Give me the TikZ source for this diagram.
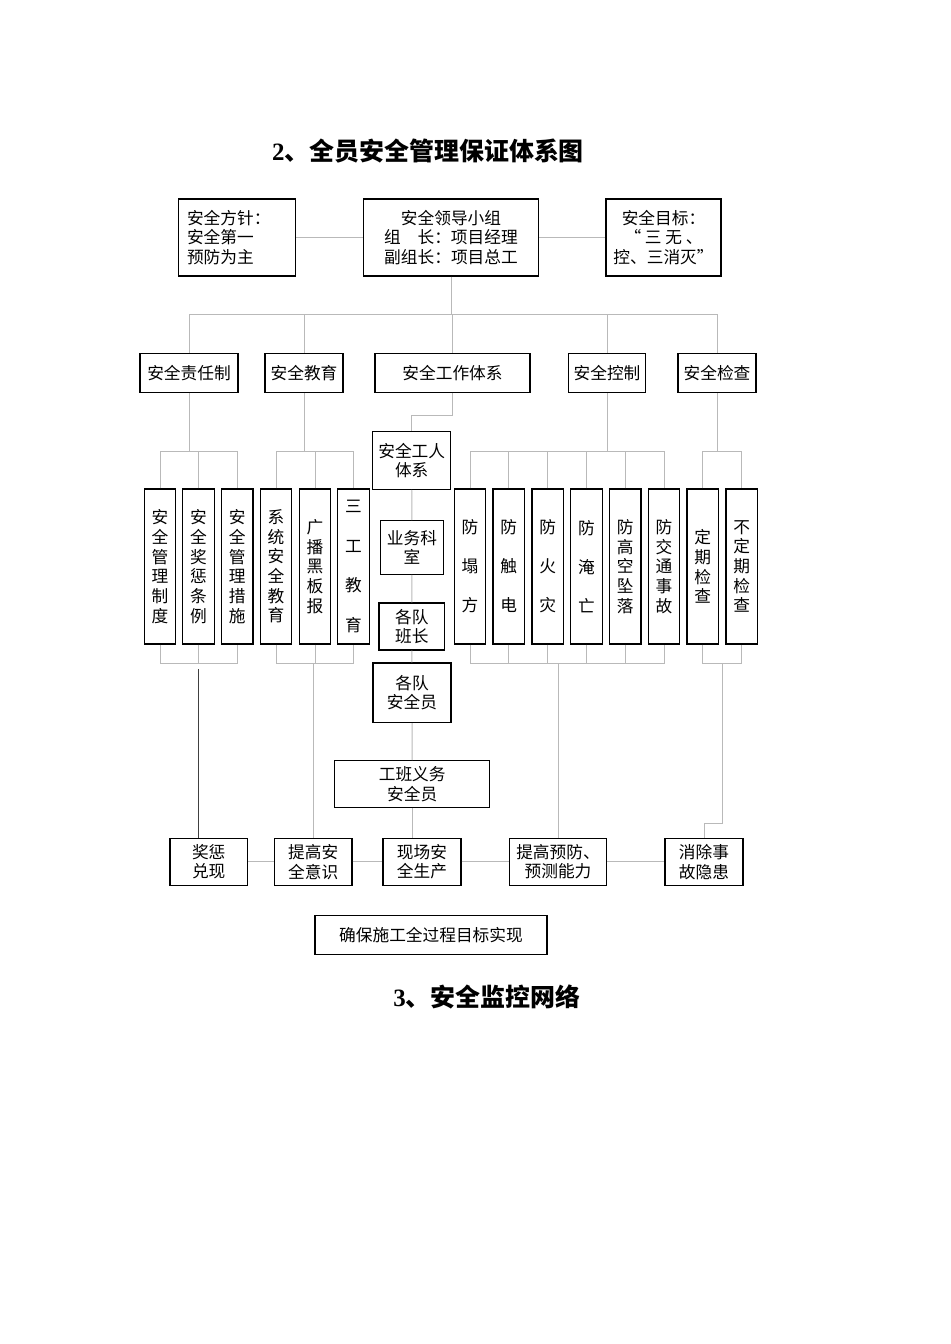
\documentclass[tikz,border=0pt]{standalone}
\usepackage{fontspec}
\setmainfont{Liberation Serif}
\newfontfamily\cjk{Noto Sans CJK SC}
\usepackage{tikz}
\usetikzlibrary{positioning}
\tikzstyle{box} = [rectangle, draw=black, line width=0.7pt, inner sep=0pt, align=center, font=\cjk\fontsize{9.5}{11.2}\selectfont]
\tikzstyle{vbox} = [box, minimum width=0.63cm, minimum height=3.1cm]
\tikzstyle{link} = [draw=gray!55, line width=0.5pt]
\tikzstyle{darklink} = [draw=black!75, line width=0.8pt]
\tikzstyle{heading} = [font=\bfseries\fontsize{14.2}{17}\selectfont]

\begin{document}
\begin{tikzpicture}[x=0.02cm, y=-0.02cm]
            \useasboundingbox (0,0) rectangle (950,1344);
            % Titles
            \node (title2) [heading] at (428,151) {2{\cjk 、全员安全管理保证体系图}};
            \node (title3) [heading] at (487,997) {3{\cjk 、安全监控网络}};

            % Top row
            \node (policy) [box, minimum width=2.34cm, minimum height=1.54cm, text width=2.0cm, align=left] at (237,237.5) {安全方针：\\安全第一\\预防为主};
            \node (leader) [box, minimum width=3.5cm, minimum height=1.54cm] at (451,237.5) {安全领导小组\\组\quad 长：项目经理\\副组长：项目总工};
            \node (goal) [box, minimum width=2.3cm, minimum height=1.54cm] at (663.5,237.5) {安全目标：\\“\ 三\ 无\ 、\\控、三消灭”};

            % Second row
            \node (resp) [box, minimum width=1.96cm, minimum height=0.78cm] at (189,372.8) {安全责任制};
            \node (edu) [box, minimum width=1.56cm, minimum height=0.78cm] at (304,372.8) {安全教育};
            \node (work) [box, minimum width=3.1cm, minimum height=0.78cm] at (452.5,372.8) {安全工作体系};
            \node (ctrl) [box, minimum width=1.54cm, minimum height=0.78cm] at (607,372.8) {安全控制};
            \node (check) [box, minimum width=1.56cm, minimum height=0.78cm] at (717,372.8) {安全检查};

            % Vertical boxes
            \node (rules) [vbox] at (160,566.5) {安\\全\\管\\理\\制\\度};
            \node (rewards) [vbox] at (198.4,566.5) {安\\全\\奖\\惩\\条\\例};
            \node (measures) [vbox] at (237.3,566.5) {安\\全\\管\\理\\措\\施};
            \node (sysedu) [vbox] at (276,566.5) {系\\统\\安\\全\\教\\育};
            \node (board) [vbox] at (315,566.5) {广\\播\\黑\\板\\报};
            \node (threeedu) [vbox] at (353.5,566.5) {三\\[11.2pt]工\\[11.2pt]教\\[11.2pt]育};
            \node (collapse) [vbox] at (470,566.5) {防\\[11pt]塌\\[11pt]方};
            \node (shock) [vbox] at (508.7,566.5) {防\\[11pt]触\\[11pt]电};
            \node (fire) [vbox] at (547.7,566.5) {防\\[11pt]火\\[11pt]灾};
            \node (drown) [vbox] at (586.5,566.5) {防\\[11pt]淹\\[11pt]亡};
            \node (fall) [vbox] at (625.2,566.5) {防\\高\\空\\坠\\落};
            \node (traffic) [vbox] at (664,566.5) {防\\交\\通\\事\\故};
            \node (regular) [vbox] at (702.7,566.5) {定\\期\\检\\查};
            \node (random) [vbox] at (741.7,566.5) {不\\定\\期\\检\\查};

            % Middle column
            \node (workers) [box, minimum width=1.56cm, minimum height=1.15cm] at (411.7,460.5) {安全工人\\体系};
            \node (office) [box, minimum width=1.25cm, minimum height=1.07cm] at (412,547.5) {业务科\\室};
            \node (leads) [box, minimum width=1.31cm, minimum height=0.94cm] at (411.8,626.5) {各队\\班长};
            \node (safety) [box, minimum width=1.56cm, minimum height=1.19cm] at (412,692.7) {各队\\安全员};
            \node (duty) [box, minimum width=3.1cm, minimum height=0.93cm] at (412.2,784) {工班义务\\安全员};

            % Bottom row
            \node (award) [box, minimum width=1.55cm, minimum height=0.94cm] at (208.7,861.8) {奖惩\\兑现};
            \node (aware) [box, minimum width=1.55cm, minimum height=0.94cm] at (313.2,861.8) {提高安\\全意识};
            \node (site) [box, minimum width=1.56cm, minimum height=0.94cm] at (422,861.8) {现场安\\全生产};
            \node (predict) [box, minimum width=1.95cm, minimum height=0.94cm] at (558,861.8) {提高预防、\\预测能力};
            \node (remove) [box, minimum width=1.56cm, minimum height=0.94cm] at (704,861.8) {消除事\\故隐患};
            \node (goalall) [box, minimum width=4.64cm, minimum height=0.77cm] at (431,935) {确保施工全过程目标实现};

            % Bus levels
            \coordinate (bus) at (0,314);
            \coordinate (gbus) at (0,451);
            \coordinate (lbus) at (0,663);
            \coordinate (dk) at (198.3,669);
            \coordinate (jog) at (722.5,663);

            % Edges
            \draw [link] (policy) -- (leader);
            \draw [link] (leader) -- (goal);
            \draw [link] (leader.south) -- (leader.south |- bus);
            \draw [link] (resp.north) -- (resp.north |- bus) -- (check.north |- bus) -- (check.north);
            \draw [link] (edu.north) -- (edu.north |- bus);
            \draw [link] (work.north) -- (work.north |- bus);
            \draw [link] (ctrl.north) -- (ctrl.north |- bus);

            \draw [link] (resp.south) -- (resp.south |- gbus);
            \draw [link] (rules.north) -- (rules.north |- gbus) -- (measures.north |- gbus) -- (measures.north);
            \draw [link] (rewards.north) -- (rewards.north |- gbus);
            \draw [link] (edu.south) -- (edu.south |- gbus);
            \draw [link] (sysedu.north) -- (sysedu.north |- gbus) -- (threeedu.north |- gbus) -- (threeedu.north);
            \draw [link] (board.north) -- (board.north |- gbus);
            \draw [link] (ctrl.south) -- (ctrl.south |- gbus);
            \draw [link] (collapse.north) -- (collapse.north |- gbus) -- (traffic.north |- gbus) -- (traffic.north);
            \draw [link] (shock.north) -- (shock.north |- gbus);
            \draw [link] (fire.north) -- (fire.north |- gbus);
            \draw [link] (drown.north) -- (drown.north |- gbus);
            \draw [link] (fall.north) -- (fall.north |- gbus);
            \draw [link] (check.south) -- (check.south |- gbus);
            \draw [link] (regular.north) -- (regular.north |- gbus) -- (random.north |- gbus) -- (random.north);

            \draw [link] (work.south) -- ++(0,23) -| (workers.north);
            \draw [link] (workers) -- (office);
            \draw [link] (office) -- (leads);
            \draw [link] (leads) -- (safety);
            \draw [link] (safety) -- (duty);
            \draw [link] (duty.south) -- (duty.south |- site.north);

            \draw [link] (rules.south) -- (rules.south |- lbus) -- (measures.south |- lbus) -- (measures.south);
            \draw [link] (rewards.south) -- (rewards.south |- lbus);
            \draw [darklink] (dk) -- (dk |- award.north);
            \draw [link] (sysedu.south) -- (sysedu.south |- lbus) -- (threeedu.south |- lbus) -- (threeedu.south);
            \draw [link] (board.south) -- (board.south |- lbus);
            \draw [link] (aware.north) -- (aware.north |- lbus);
            \draw [link] (collapse.south) -- (collapse.south |- lbus) -- (traffic.south |- lbus) -- (traffic.south);
            \draw [link] (shock.south) -- (shock.south |- lbus);
            \draw [link] (fire.south) -- (fire.south |- lbus);
            \draw [link] (drown.south) -- (drown.south |- lbus);
            \draw [link] (fall.south) -- (fall.south |- lbus);
            \draw [link] (predict.north) -- (predict.north |- lbus);
            \draw [link] (regular.south) -- (regular.south |- lbus) -- (random.south |- lbus) -- (random.south);
            \draw [link] (jog) -- ++(0,160) -| (remove.north);

            \draw [link] (award) -- (aware);
            \draw [link] (aware) -- (site);
            \draw [link] (site) -- (predict);
            \draw [link] (predict) -- (remove);
        \end{tikzpicture}
\end{document}
